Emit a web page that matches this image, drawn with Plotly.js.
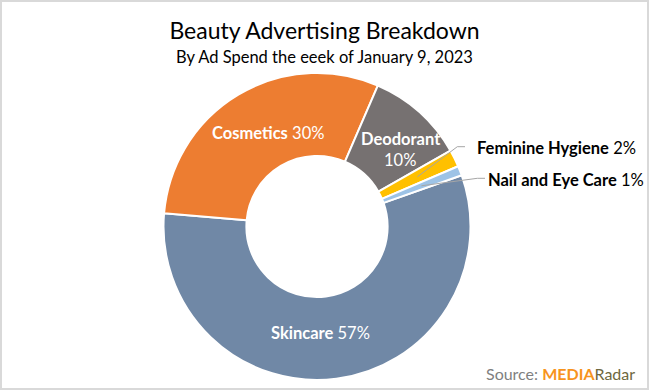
<!DOCTYPE html>
<html>
<head>
<meta charset="utf-8">
<script src="https://cdn.plot.ly/plotly-3.0.1.min.js"></script>
<style>
  html, body { margin: 0; padding: 0; background: #fff; }
  #chart { width: 645px; height: 386px; border: 2px solid #D9D9D9; }
</style>
</head>
<body>
<div id="chart"></div>
<script>
// ---- data ----
const categories = ['Skincare', 'Cosmetics', 'Deodorant', 'Feminine Hygiene', 'Nail and Eye Care'];
const shares = [56.8, 30.1, 10.3, 1.8, 1.0];
const titleText = 'Beauty Advertising Breakdown';
const subtitleText = 'By Ad Spend the eeek of January 9, 2023';

// ---- style ----
const sliceColors = ['#7088A6', '#ED7D31', '#767171', '#FFC000', '#9DC3E6'];
const FONT = 'Lato, "Open Sans", sans-serif';
const LBL = 16.5;
const W = 645, H = 386, B = 2;            // plot size and frame border
const CX = 317, CY = 226.5, R = 153.5;    // donut center / radius (page px)
const HOLE = 0.46;
const ROT = 70.5;

const px = x => (x - B) / W;
const py = y => 1 - (y - B) / H;
const pct = v => Math.round(v) + '%';

const total = shares.reduce((a, b) => a + b, 0);
function midPoint(i, rFrac) {
  let cum = 0;
  for (let k = 0; k < i; k++) cum += shares[k];
  const a = (ROT + (cum + shares[i] / 2) / total * 360) * Math.PI / 180;
  const r = R * rFrac;
  return [CX + r * Math.sin(a), CY - r * Math.cos(a)];
}

const trace = {
  type: 'pie',
  labels: categories,
  values: shares,
  hole: HOLE,
  sort: false,
  direction: 'clockwise',
  rotation: ROT,
  textinfo: 'none',
  hoverinfo: 'label+percent',
  marker: { colors: sliceColors, line: { color: '#FFFFFF', width: 2 } },
  domain: {
    x: [px(CX - R), px(CX + R)],
    y: [py(CY + R), py(CY - R)]
  },
  showlegend: false
};

const mid = (1 + HOLE) / 2;
const femEnd = midPoint(3, mid);
const nailEnd = midPoint(4, mid);

const shapes = [
  { type: 'path', xref: 'paper', yref: 'paper',
    path: `M ${px(465)},${py(146.7)} L ${px(457.3)},${py(146.7)} L ${px(femEnd[0])},${py(femEnd[1])}`,
    line: { color: '#A6A6A6', width: 1 } },
  { type: 'path', xref: 'paper', yref: 'paper',
    path: `M ${px(485)},${py(178.3)} L ${px(477.3)},${py(178.3)} L ${px(nailEnd[0])},${py(nailEnd[1])}`,
    line: { color: '#A6A6A6', width: 1 } }
];

function ann(x, y, text, opts) {
  return Object.assign({
    xref: 'paper', yref: 'paper', x: px(x), y: py(y), text: text,
    showarrow: false, xanchor: 'center', yanchor: 'middle',
    font: { family: FONT, size: LBL, color: '#FFFFFF' }
  }, opts || {});
}

const annotations = [
  ann(268, 133.3, `<b>${categories[1]}</b> ${pct(shares[1])}`),
  ann(401, 139.3, `<b>${categories[2]}</b>`),
  ann(400, 160, pct(shares[2])),
  ann(320.5, 333.3, `<b>${categories[0]}</b> ${pct(shares[0])}`),
  ann(475, 148.3, `<b>${categories[3]}</b> ${pct(shares[3])}`,
      { xanchor: 'left', font: { family: FONT, size: LBL, color: '#000000' } }),
  ann(486, 180, `<b>${categories[4]}</b> ${pct(shares[4])}`,
      { xanchor: 'left', font: { family: FONT, size: LBL, color: '#000000' } }),
  ann(324.5, 57, subtitleText,
      { font: { family: FONT, size: 16.5, color: '#000000' } }),
  ann(637, 373,
      `<span style="color:#7F7F7F">Source: </span><b><span style="color:#F7941D">MEDIA</span></b><span style="color:#6E6840">Radar</span>`,
      { xanchor: 'right', font: { family: FONT, size: 16, color: '#7F7F7F' } })
];

const layout = {
  width: W, height: H,
  margin: { l: 0, r: 0, t: 0, b: 0 },
  paper_bgcolor: '#FFFFFF',
  title: {
    text: titleText,
    font: { family: FONT, size: 23, color: '#000000' },
    x: 0.5, xref: 'container', xanchor: 'center',
    y: py(31), yref: 'container', yanchor: 'middle'
  },
  shapes: shapes,
  annotations: annotations
};

Plotly.newPlot('chart', [trace], layout, { displayModeBar: false, staticPlot: true });
</script>
</body>
</html>
